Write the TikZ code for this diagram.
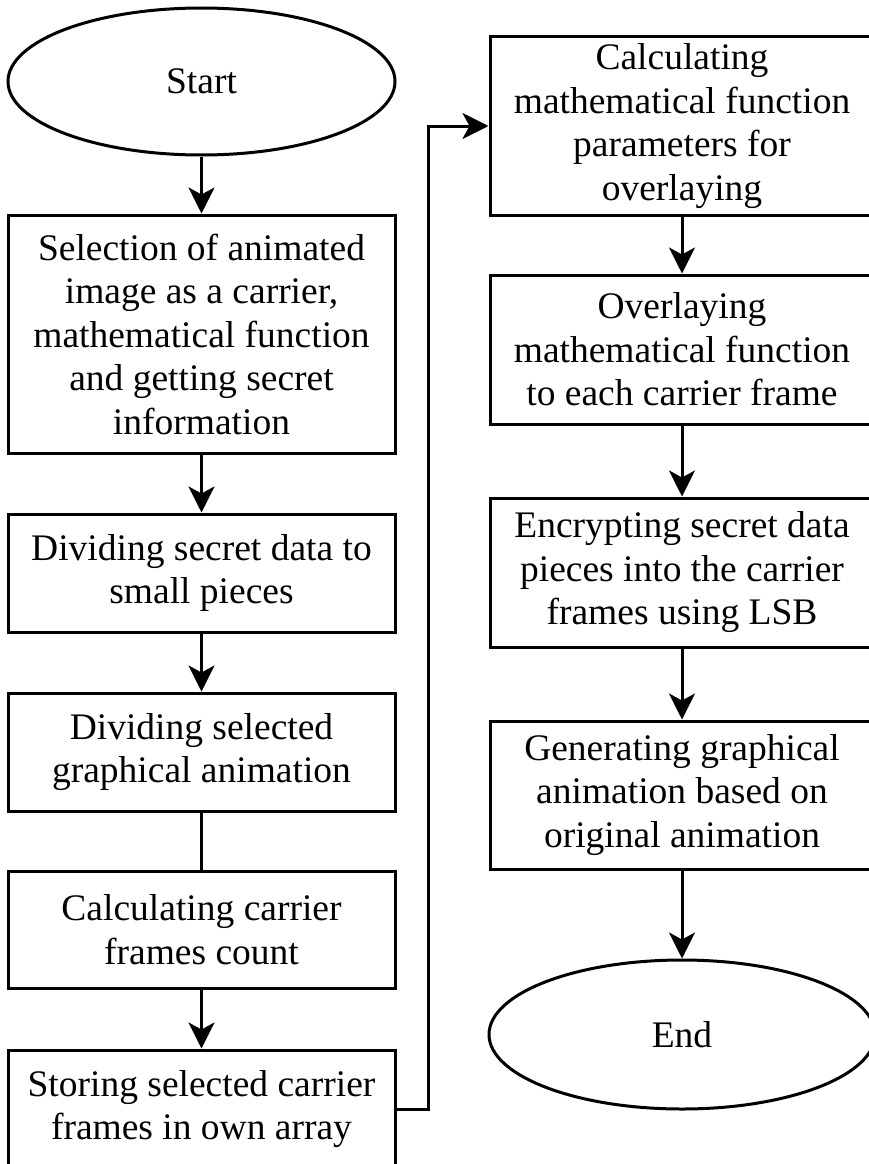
\documentclass[tikz,border=0pt]{standalone}
\usepackage{fontspec}
\setmainfont{Liberation Serif}
\usetikzlibrary{arrows.meta,shapes.geometric}

\begin{document}
\begin{tikzpicture}[x=1pt, y=-1pt,
		flowbox/.style={draw, line width=3pt, rectangle, inner sep=2pt, align=center,
			font=\fontsize{37.5}{43.5}\selectfont},
		terminal/.style={draw, line width=3pt, ellipse, inner sep=0pt,
			font=\fontsize{37.5}{43.5}\selectfont},
		flowline/.style={line width=3pt},
		flowarrow/.style={line width=3pt, -{Stealth[length=26pt, width=26pt, inset=7pt]}}]
		%%%%% START %%%%%
		
		\useasboundingbox (0, 0) rectangle (868, 1164);
		
		% left column
		\node[terminal, minimum width=387pt, minimum height=147pt] (start) at (201.5, 81.5) {Start};
		\node[flowbox, minimum width=387pt, minimum height=238pt] (select) at (201.5, 334) {Selection of animated\\image as a carrier,\\mathematical function\\and getting secret\\information};
		\node[flowbox, minimum width=387pt, minimum height=118pt] (splitdata) at (201.5, 573) {Dividing secret data to\\small pieces};
		\node[flowbox, minimum width=387pt, minimum height=118pt] (splitanim) at (201.5, 752) {Dividing selected\\graphical animation};
		\node[flowbox, minimum width=387pt, minimum height=117pt] (framecount) at (201.5, 929.5) {Calculating carrier\\frames count};
		\node[flowbox, minimum width=387pt, minimum height=118pt] (store) at (201.5, 1109) {Storing selected carrier\\frames in own array};
		
		% right column
		\node[flowbox, minimum width=384pt, minimum height=178pt] (params) at (682, 126) {Calculating\\mathematical function\\parameters for\\overlaying};
		\node[flowbox, minimum width=384pt, minimum height=149pt] (overlay) at (682, 349.5) {Overlaying\\mathematical function\\to each carrier frame};
		\node[flowbox, minimum width=384pt, minimum height=149pt] (encrypt) at (682, 572.5) {Encrypting secret data\\pieces into the carrier\\frames using LSB};
		\node[flowbox, minimum width=384pt, minimum height=148pt] (generate) at (682, 795) {Generating graphical\\animation based on\\original animation};
		\node[terminal, minimum width=386pt, minimum height=149pt] (end) at (682, 1034.5) {End};
		
		% connectors
		\draw[flowarrow] (start) -- (select);
		\draw[flowarrow] (select) -- (splitdata);
		\draw[flowarrow] (splitdata) -- (splitanim);
		\draw[flowline] (splitanim) -- (framecount);
		\draw[flowarrow] (framecount) -- (store);
		\draw[flowarrow] (store.east) -- ++(32, 0) |- (params.west);
		\draw[flowarrow] (params) -- (overlay);
		\draw[flowarrow] (overlay) -- (encrypt);
		\draw[flowarrow] (encrypt) -- (generate);
		\draw[flowarrow] (generate) -- (end);
		
		%%%%% END %%%%%
	\end{tikzpicture}
\end{document}
